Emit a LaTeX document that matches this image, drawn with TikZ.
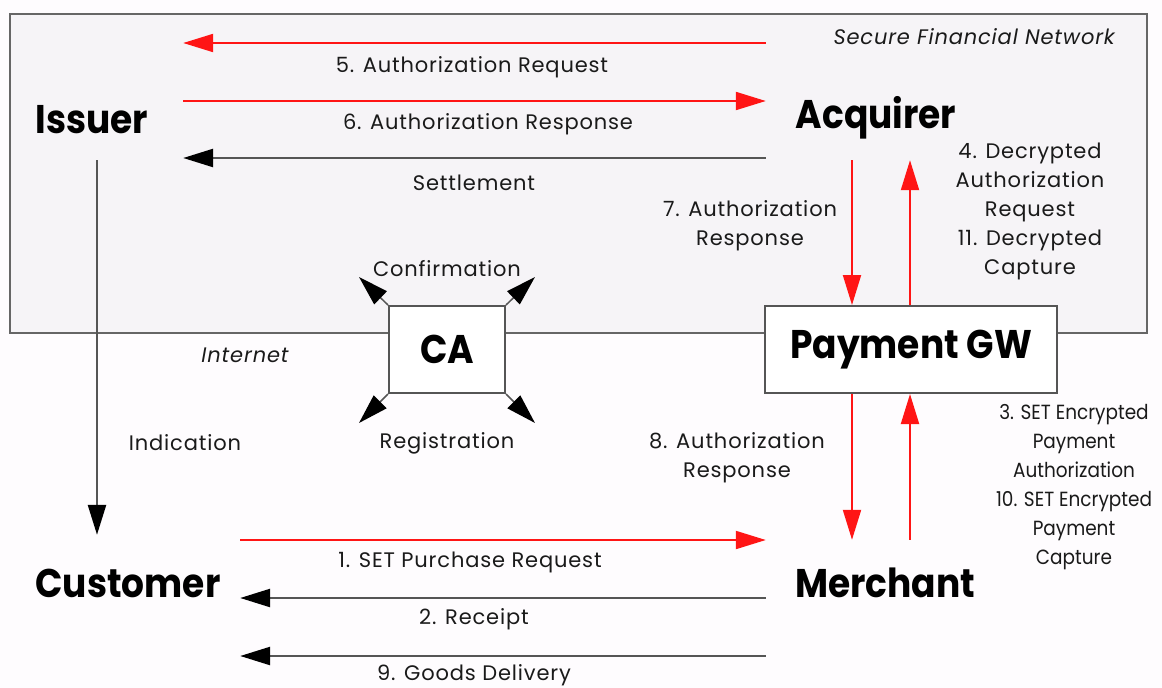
\documentclass[tikz,border=0pt]{standalone}
\usepackage{fontspec}
\setmainfont{Poppins}
\newfontfamily\partyfont[FakeStretch=0.9]{Poppins}
\newfontfamily\lblfont[LetterSpace=4]{Poppins}
\newfontfamily\tightfont[FakeStretch=0.9]{Poppins}
\usetikzlibrary{arrows.meta}
\definecolor{netbg}{HTML}{F6F4F7}
\definecolor{pagebg}{HTML}{FEFCFE}
\definecolor{arrred}{HTML}{FF1515}
\definecolor{linegray}{HTML}{555555}
\definecolor{txt}{HTML}{1A1A1A}
\begin{document}
\begin{tikzpicture}[x=1pt,y=-1pt,
  redarr/.style={draw=arrred, line width=2pt, -{Triangle[length=30pt,width=18pt]}},
  blkarr/.style={draw=linegray, line width=2.5pt, -{Triangle[length=30pt,width=18pt,fill=black,color=black]}},
  party/.style={font=\partyfont\fontsize{40}{40}\selectfont\bfseries, text=black, inner sep=0pt},
  lbl/.style={font=\lblfont\fontsize{21}{29}\selectfont, text=txt, align=center, inner sep=0pt},
  tightlbl/.style={font=\tightfont\fontsize{20.5}{29}\selectfont, text=txt, align=center, inner sep=0pt},
  ital/.style={font=\lblfont\fontsize{21}{24}\selectfont\itshape, text=txt, inner sep=0pt},
  boxnode/.style={draw=linegray, line width=2pt, fill=white, inner sep=0pt}
]
\useasboundingbox (0,0) rectangle (1162,688);
\path[fill=pagebg] (0,0) rectangle (1162,688);
% secure financial network region
\node[draw=gray!80!black, line width=2pt, fill=netbg, minimum width=1137pt, minimum height=319pt, inner sep=0pt] (net) at (578.5,173.5) {};
\node[ital, anchor=east] (sfn) at (1115,37) {Secure Financial Network};
\node[ital] (inet) at (245,355) {Internet};

% parties
\node[party, minimum width=182pt, minimum height=80pt] (iss) at (92,120) {Issuer};
\node[party, minimum width=220pt, minimum height=84pt] (acq) at (876,118) {Acquirer};
\node[party, minimum width=224pt, minimum height=96pt] (cust) at (128,583) {Customer};
\node[party, minimum width=238pt, minimum height=86pt] (merch) at (885,583) {Merchant};
\node[party, boxnode, minimum width=292pt, minimum height=87pt] (pgw) at (911,349.5) {Payment GW};
\node[party, boxnode, minimum width=116pt, minimum height=87pt] (ca) at (447,349.5) {CA};

% issuer <-> acquirer
\draw[redarr] (acq.west |- 0,43) -- (iss.east |- 0,43);
\node[lbl] (l5) at (472,67) {5. Authorization Request};
\draw[redarr] (iss.east |- 0,101) -- (acq.west |- 0,101);
\node[lbl] (l6) at (488,124) {6. Authorization Response};
\draw[blkarr] (acq.west |- 0,158) -- (iss.east |- 0,158);
\node[lbl] (lset) at (474,183) {Settlement};

% acquirer <-> payment gateway
\draw[redarr] (acq.south -| 852,0) -- (pgw.north -| 852,0);
\draw[redarr] (pgw.north -| 910,0) -- (acq.south -| 910,0);
\node[lbl] (l7) at (750,225.5) {7. Authorization\\Response};
\node[lbl] (l4) at (1030,211) {4. Decrypted\\Authorization\\Request\\11. Decrypted\\Capture};

% payment gateway <-> merchant
\draw[redarr] (pgw.south -| 852,0) -- (merch.north -| 852,0);
\draw[redarr] (merch.north -| 910,0) -- (pgw.south -| 910,0);
\node[lbl] (l8) at (737,457.5) {8. Authorization\\Response};
\node[tightlbl] (l3) at (1074,487.5) {3. SET Encrypted\\Payment\\Authorization\\10. SET Encrypted\\Payment\\Capture};

% issuer -> customer
\draw[blkarr] (iss.south -| 97,0) -- (cust.north -| 97,0);
\node[lbl] (lind) at (185,443) {Indication};

% customer <-> merchant
\draw[redarr] (cust.east |- 0,540) -- (merch.west |- 0,540);
\node[lbl] (l1) at (470,562) {1. SET Purchase Request};
\draw[blkarr] (merch.west |- 0,598) -- (cust.east |- 0,598);
\node[lbl] (l2) at (474,619) {2. Receipt};
\draw[blkarr] (merch.west |- 0,656) -- (cust.east |- 0,656);
\node[lbl] (l9) at (474,675) {9. Goods Delivery};

% CA arrows
\coordinate (caTL) at (359,277);
\coordinate (caTR) at (535,277);
\coordinate (caBL) at (359,423);
\coordinate (caBR) at (535,423);
\draw[blkarr, line width=1.5pt] (ca.north west) -- (caTL);
\draw[blkarr, line width=1.5pt] (ca.north east) -- (caTR);
\draw[blkarr, line width=1.5pt] (ca.south west) -- (caBL);
\draw[blkarr, line width=1.5pt] (ca.south east) -- (caBR);
\node[lbl] (lconf) at (447,269) {Confirmation};
\node[lbl] (lreg) at (447,443) {Registration};
\end{tikzpicture}
\end{document}
